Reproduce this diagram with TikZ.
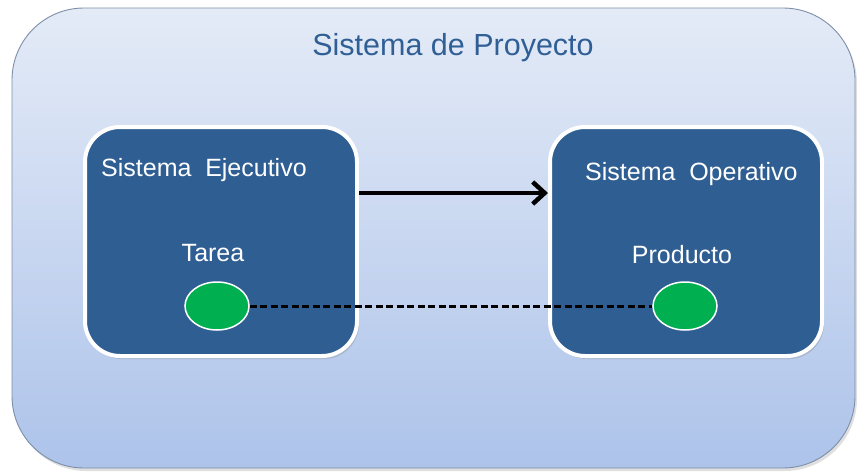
\documentclass[tikz,border=0pt]{standalone}
\usepackage{fontspec}
\setmainfont{Liberation Sans}
\usetikzlibrary{arrows.meta,shadows,shapes.geometric}
\definecolor{boxblue}{HTML}{2F5E93}
\definecolor{titleblue}{HTML}{2F5F95}
\definecolor{bgtop}{HTML}{E4EBF7}
\definecolor{bgbot}{HTML}{ADC3EA}
\definecolor{outline}{HTML}{7D8EA8}
\definecolor{dotgreen}{HTML}{00B050}
\tikzset{
  outerbox/.style={rectangle, rounded corners=72pt, minimum width=843pt, minimum height=460pt,
    top color=bgtop, bottom color=bgbot, draw=outline, line width=0.9pt,
    drop shadow={opacity=0.25, shadow xshift=2pt, shadow yshift=-3pt}},
  sysbox/.style={rectangle, rounded corners=35pt, minimum width=272pt, minimum height=229pt,
    fill=boxblue, draw=white, line width=4pt,
    drop shadow={opacity=0.3, shadow xshift=2pt, shadow yshift=-3pt}},
  boxtext/.style={text=white, font=\fontsize{25}{28}\selectfont, inner sep=0pt},
  titletext/.style={text=titleblue, font=\fontsize{30.5}{34}\selectfont, inner sep=0pt},
  dot/.style={ellipse, minimum width=64pt, minimum height=48pt, inner sep=0pt,
    fill=dotgreen, draw=white, line width=1.5pt},
  flow/.style={line width=4pt, -{Straight Barb[length=12pt,width=22pt,line width=4.5pt]}},
  link/.style={line width=3pt, dash pattern=on 7pt off 3.5pt}
}
\begin{document}
\begin{tikzpicture}[x=1pt,y=-1pt]
\useasboundingbox (0,0) rectangle (860,474);
\node[outerbox] (outer) at (433.5,238) {};
\node[titletext] (title) at (453,48) {Sistema de Proyecto};
\node[sysbox] (lbox) at (221,241.5) {};
\node[sysbox] (rbox) at (686,241.5) {};
\node[boxtext, anchor=west] (ltext) at (101,170) {Sistema\hspace{0.55em}Ejecutivo};
\node[boxtext, anchor=west] (rtext) at (585,174) {Sistema\hspace{0.55em}Operativo};
\node[boxtext] (tarea) at (213,253) {Tarea};
\node[boxtext] (producto) at (682,255) {Producto};
\node[dot] (ldot) at (217,306) {};
\node[dot] (rdot) at (685,306) {};
\coordinate (ya) at (0,193);
\draw[flow] (lbox.east |- ya) -- (rbox.west |- ya);
\draw[link] (ldot.east) -- (rdot.west);
\end{tikzpicture}
\end{document}
